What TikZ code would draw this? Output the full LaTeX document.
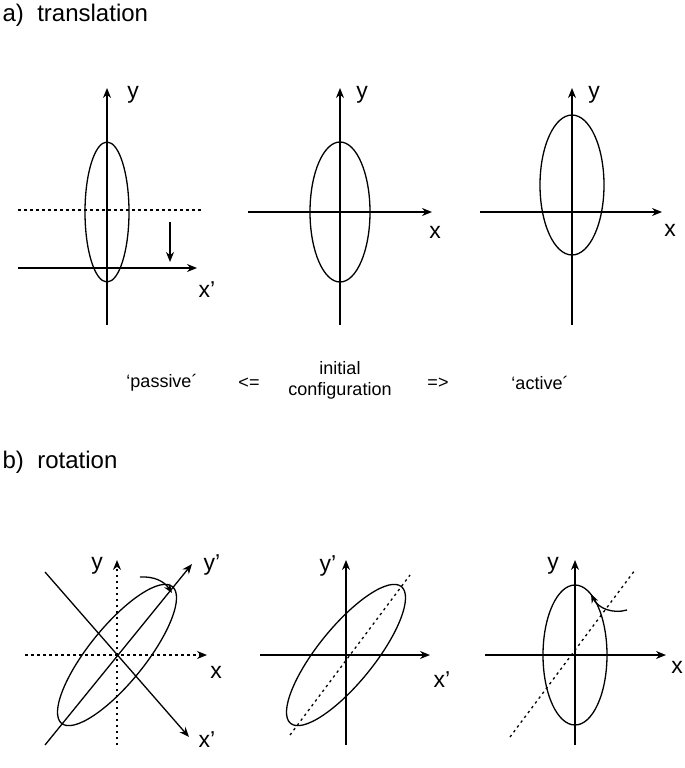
\documentclass[tikz,border=0pt]{standalone}
\usepackage{fontspec}
\setmainfont{Liberation Sans}
\usetikzlibrary{arrows.meta}
\begin{document}
\begin{tikzpicture}[x=1pt,y=-1pt,line width=1.3pt,
 ax/.style={-{Stealth[length=10pt,width=8pt]}},
 dt/.style={dash pattern=on 2.5pt off 3.5pt},
 lab/.style={font=\fontsize{23}{26}\selectfont,inner sep=0pt},
 ttl/.style={font=\fontsize{24}{28}\selectfont,anchor=west,inner sep=0pt},
 captext/.style={font=\fontsize{18}{21}\selectfont,align=center,inner sep=0pt}]
\useasboundingbox (0,0) rectangle (685,768);
\node[ttl] (ta) at (2,15) {a)\ \ translation};
\node[ttl] (tb) at (2,462) {b)\ \ rotation};
% a1
\draw[ax] (107,325) -- (107,88);
\node[lab] (a1y) at (133,95) {y};
\draw (107,212) ellipse [x radius=22, y radius=70];
\draw[dt] (18,210) -- (202,210);
\draw[ax] (18,268) -- (197,268);
\node[lab] (a1x) at (207,290) {x'};
\draw[ax] (170,222) -- (170,262);
% a2
\draw[ax] (340,325) -- (340,88);
\node[lab] (a2y) at (362,95) {y};
\draw (340,212) ellipse [x radius=30, y radius=70];
\draw[ax] (248,212) -- (432,212);
\node[lab] (a2x) at (435,232) {x};
% a3
\draw[ax] (572,325) -- (572,88);
\node[lab] (a3y) at (594,95) {y};
\draw (572,185) ellipse [x radius=32, y radius=70];
\draw[ax] (480,212) -- (662,212);
\node[lab] (a3x) at (670,230) {x};
% captions
\node[captext] (c1) at (162,383) {`passive´};
\node[captext] (c2) at (249,383) {<=};
\node[captext] (c3) at (340,380) {initial\\configuration};
\node[captext] (c4) at (438,383) {=>};
\node[captext] (c5) at (540,383) {`active´};
% b1
\draw[ax,dt] (117,745) -- (117,560);
\node[lab] (b1y) at (97,566) {y};
\draw[ax,dt] (25,655) -- (207,655);
\node[lab] (b1x) at (216,672) {x};
\draw[ax] (45,745) -- (192,564);
\node[lab] (b1yp) at (212,565) {y'};
\draw[ax] (45,572) -- (189,737);
\node[lab] (b1xp) at (207,740) {x'};
\draw[rotate around={51:(117,655)}] (117,655) ellipse [x radius=88, y radius=28];
\draw[-{Stealth[length=9pt,width=7pt]}] (140,577) to[bend left=30] (172,593);
% b2
\draw[ax] (346,745) -- (346,560);
\node[lab] (b2y) at (328,566) {y'};
\draw[ax] (260,655) -- (430,655);
\node[lab] (b2x) at (442,680) {x'};
\draw[dt] (290,735) -- (410,575);
\draw[rotate around={51:(346,655)}] (346,655) ellipse [x radius=88, y radius=28];
% b3
\draw[ax] (575,745) -- (575,560);
\node[lab] (b3y) at (553,566) {y};
\draw[ax] (485,655) -- (666,655);
\node[lab] (b3x) at (677,667) {x};
\draw[dt] (510,737) -- (635,570);
\draw (575,655) ellipse [x radius=32, y radius=70];
\draw[-{Stealth[length=9pt,width=7pt]}] (627,610) to[bend left=40] (591,594);
\end{tikzpicture}
\end{document}
